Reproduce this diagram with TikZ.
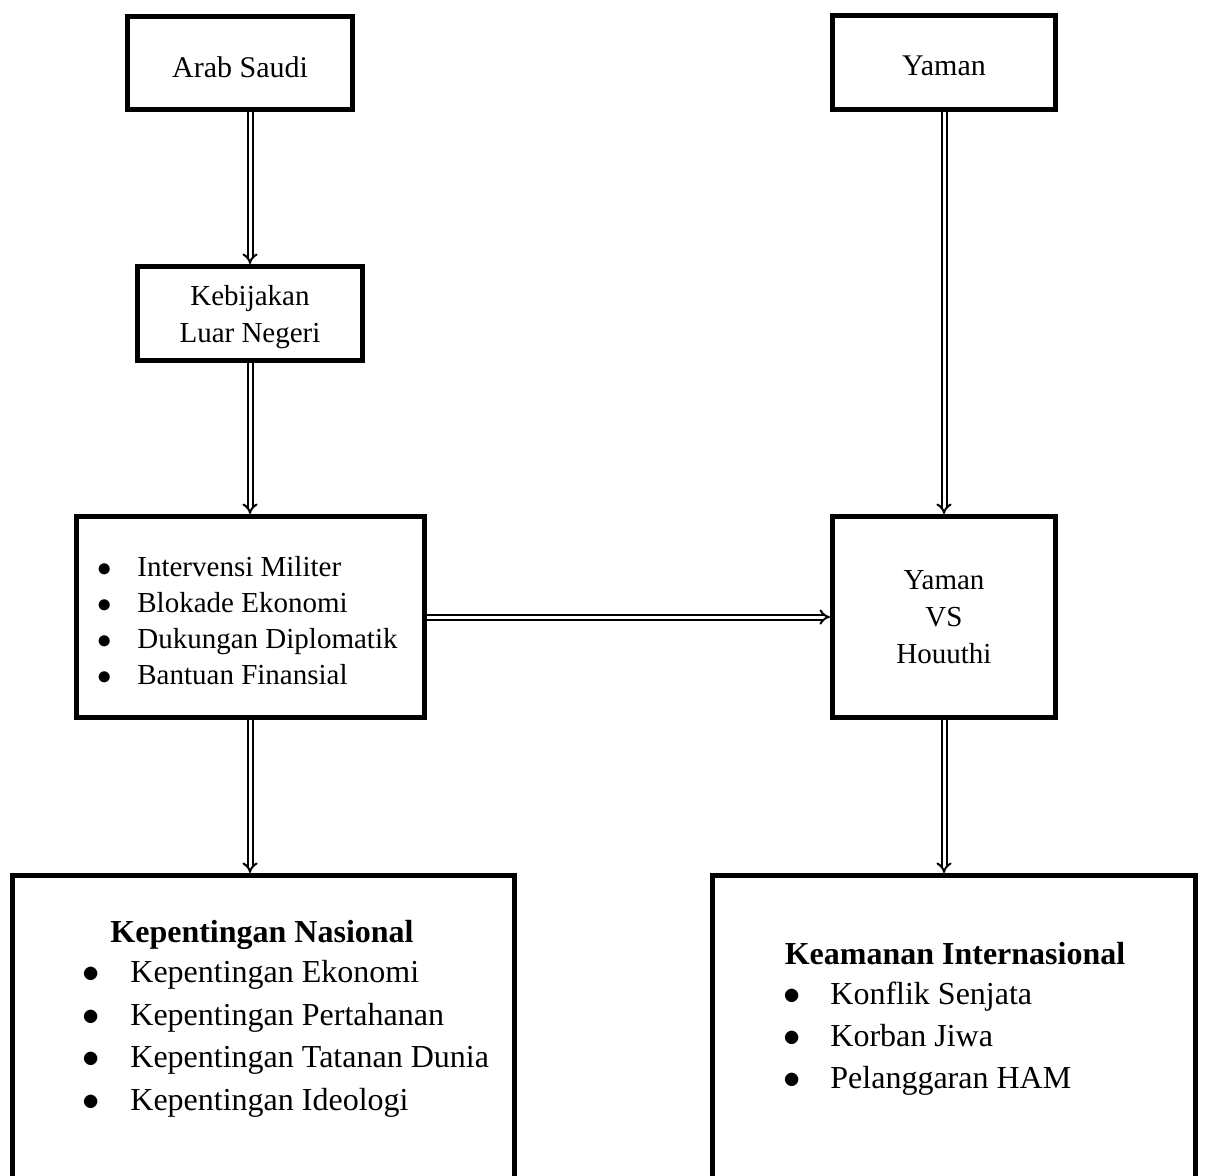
\documentclass[tikz,border=0pt]{standalone}
\usepackage{fontspec}
\setmainfont{Liberation Serif}
\usetikzlibrary{arrows.meta}

\tikzset{
  box/.style={draw,line width=2.5pt,inner sep=0pt,align=center,font=\fontsize{14.5}{18.5}\selectfont},
  item/.style={anchor=base west,inner sep=0pt,font=\fontsize{14.5}{18}\selectfont},
  bigitem/.style={anchor=base west,inner sep=0pt,font=\fontsize{16}{21}\selectfont},
  head/.style={anchor=base,inner sep=0pt,font=\bfseries\fontsize{16}{21}\selectfont},
  link/.style={double,double distance=1.5pt,line width=1pt,-{Implies[scale=1.2]}},
}

\begin{document}
\begin{tikzpicture}[x=.5pt,y=-.5pt]
\path[use as bounding box] (0,0) rectangle (1208,1175);
\clip (0,0) rectangle (1208,1175);

% top row
\node[box,minimum width=112.5pt,minimum height=46.5pt,text height=14pt,text depth=0pt,font=\fontsize{15}{18.5}\selectfont] (arab) at (240,63) {Arab Saudi};
\node[box,minimum width=111.5pt,minimum height=47pt,text height=12.5pt,text depth=0pt,font=\fontsize{15}{18.5}\selectfont] (yaman) at (944,62.5) {Yaman};
\node[box,minimum width=112.5pt,minimum height=47pt] (kebijakan) at (250,313.5) {\rule{0pt}{14pt}Kebijakan\\Luar Negeri};

% middle row
\node[box,minimum width=174pt,minimum height=100.5pt] (policy) at (250,617) {};
\node[item] (p1) at (97,576) {\makebox[20pt][l]{$\bullet$}Intervensi Militer};
\node[item] (p2) at (97,612) {\makebox[20pt][l]{$\bullet$}Blokade Ekonomi};
\node[item] (p3) at (97,648) {\makebox[20pt][l]{$\bullet$}Dukungan Diplomatik};
\node[item] (p4) at (97,684) {\makebox[20pt][l]{$\bullet$}Bantuan Finansial};
\node[box,minimum width=111.5pt,minimum height=100.5pt] (conflict) at (944,617) {Yaman\\VS\\Houuthi};

% bottom row, open at the lower edge
\node[box,minimum width=251pt,minimum height=160pt] (national) at (263.5,1035.5) {};
\node[head] (nhead) at (262,942) {Kepentingan Nasional};
\node[bigitem] (n1) at (82,982) {\makebox[24pt][l]{$\bullet$}Kepentingan Ekonomi};
\node[bigitem] (n2) at (82,1025) {\makebox[24pt][l]{$\bullet$}Kepentingan Pertahanan};
\node[bigitem] (n3) at (82,1067) {\makebox[24pt][l]{$\bullet$}Kepentingan Tatanan Dunia};
\node[bigitem] (n4) at (82,1110) {\makebox[24pt][l]{$\bullet$}Kepentingan Ideologi};

\node[box,minimum width=241.5pt,minimum height=160pt] (security) at (954,1035.5) {};
\node[head] (shead) at (955,964) {Keamanan Internasional};
\node[bigitem] (s1) at (783,1004) {\makebox[23.5pt][l]{$\bullet$}Konflik Senjata};
\node[bigitem] (s2) at (783,1046) {\makebox[23.5pt][l]{$\bullet$}Korban Jiwa};
\node[bigitem] (s3) at (783,1088) {\makebox[23.5pt][l]{$\bullet$}Pelanggaran HAM};

% connectors
\draw[link] (kebijakan.north |- arab.south) -- (kebijakan.north);
\draw[link] (kebijakan.south) -- (policy.north);
\draw[link] (yaman.south) -- (conflict.north);
\draw[link] (policy.east) -- (conflict.west);
\draw[link] (policy.south) -- (policy.south |- national.north);
\draw[link] (conflict.south) -- (conflict.south |- security.north);
\end{tikzpicture}
\end{document}
